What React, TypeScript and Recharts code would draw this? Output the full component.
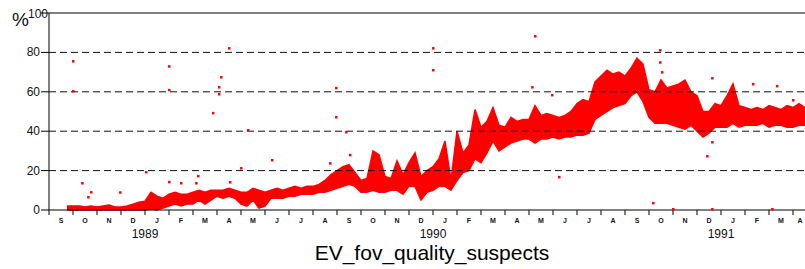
import {
  Area,
  ComposedChart,
  ReferenceLine,
  Scatter,
  XAxis,
  YAxis,
} from "recharts";

// x = months since 1 Sep 1988
const monthPos = [
  0.75, 1, 1.25, 1.5, 1.75, 2, 2.25, 2.5, 2.75, 3, 3.25, 3.5,
  3.75, 4, 4.25, 4.5, 4.75, 5, 5.25, 5.5, 5.75, 6, 6.25, 6.5,
  6.75, 7, 7.25, 7.5, 7.75, 8, 8.25, 8.5, 8.75, 9, 9.25, 9.5,
  9.75, 10, 10.25, 10.5, 10.75, 11, 11.25, 11.5, 11.75, 12, 12.25, 12.5,
  12.75, 13, 13.25, 13.5, 13.75, 14, 14.25, 14.5, 14.75, 15, 15.25, 15.5,
  15.75, 16, 16.25, 16.5, 16.75, 17, 17.25, 17.5, 17.75, 18, 18.25, 18.5,
  18.75, 19, 19.25, 19.5, 19.75, 20, 20.25, 20.5, 20.75, 21, 21.25, 21.5,
  21.75, 22, 22.25, 22.5, 22.75, 23, 23.25, 23.5, 23.75, 24, 24.25, 24.5,
  24.75, 25, 25.25, 25.5, 25.75, 26, 26.25, 26.5, 26.75, 27, 27.25, 27.5,
  27.75, 28, 28.25, 28.5, 28.75, 29, 29.25, 29.5, 29.75, 30, 30.25, 30.5,
  30.75, 31, 31.25, 31.5,
];

const lowVals = [
  0, 0, 0, 0, 0, 0, 0, 0, 0, 0, 0, 0,
  0, 0, 0.5, 0, 1, 2, 3, 2, 3, 3, 5, 3,
  5, 7, 6, 7, 6, 3, 2, 5, 1, 2, 6, 6,
  6, 7, 7, 8, 8, 8, 9, 9, 10, 11, 12, 13,
  12, 9, 9, 10, 9, 9, 10, 10, 8, 12, 12, 5,
  9, 10, 12, 12, 10, 15, 19, 20, 26, 24, 29, 35,
  30, 32, 34, 35, 36, 36, 34, 36, 36, 37, 36, 37,
  37, 38, 38, 39, 46, 48, 50, 52, 53, 54, 58, 60,
  55, 47, 44, 44, 44, 43, 42, 41, 43, 40, 37, 39,
  42, 42, 42, 44, 42, 43, 43, 43, 44, 42, 43, 43,
  42, 42, 43, 43,
];

const highVals = [
  2, 2, 2, 1.5, 2, 1.5, 2, 2.5, 1.5, 1.5, 2, 3,
  4, 4.5, 9, 7, 6, 8, 9, 8, 8, 9, 10, 9,
  10, 10, 10, 11, 10, 9, 9, 11, 10, 9, 10, 11,
  10, 11, 12, 11, 12, 12, 13, 15, 18, 20, 22, 23,
  19, 15, 16, 30, 28, 17, 16, 25, 18, 24, 29, 17,
  20, 22, 26, 35, 15, 40, 29, 33, 51, 42, 45, 52,
  43, 42, 47, 45, 46, 46, 53, 48, 49, 48, 47, 48,
  50, 54, 56, 55, 65, 68, 71, 69, 70, 68, 72, 77,
  74, 61, 60, 66, 62, 63, 64, 66, 60, 58, 50, 50,
  54, 53, 58, 64, 53, 52, 51, 52, 51, 53, 52, 51,
  53, 52, 54, 52,
];

// isolated suspect points
const outlierPos = [
  1.0, 1.0, 1.38, 1.63, 1.75, 2.96, 4.04, 5.0, 5.0, 5.0, 5.5, 6.21,
  6.13, 6.83, 7.08, 7.08, 7.17, 7.5, 7.54, 8.0, 8.29, 9.29, 11.96, 11.96,
  12.38, 11.71, 12.54, 16.0, 16.0, 20.25, 20.13, 21.25, 20.96, 25.17, 25.46, 25.46,
  25.54, 27.63, 27.42, 27.63, 29.33, 30.33, 31.0, 26.0, 27.63, 30.13,
];
const outlierVals = [
  75.6, 60.4, 13.7, 6.6, 9.1, 9, 19.3, 73, 61, 14.3, 13.7, 17.3,
  13.7, 49.3, 62.4, 58.9, 67.5, 82.2, 14.2, 21.3, 40.6, 25.4, 62, 47.2,
  39.6, 23.8, 28, 82.2, 71.1, 88.3, 62.4, 16.8, 58.4, 3.6, 81.2, 75,
  70, 67, 27.4, 34.5, 64, 63, 55.8, 0.5, 0.5, 0.5,
];

const monthLetters = [
  "S", "O", "N", "D", "J", "F", "M", "A", "M", "J", "J", "A",
  "S", "O", "N", "D", "J", "F", "M", "A", "M", "J", "J", "A",
  "S", "O", "N", "D", "J", "F", "M", "A",
];
const yearLabels: Record<number, string> = { 4: "1989", 16: "1990", 28: "1991" };
const yTicks = [0, 20, 40, 60, 80, 100];
const gridValues = [20, 40, 60, 80];

const bandData = monthPos.map((m, i) => ({ m, low: lowVals[i], high: highVals[i] }));
const outliers = outlierPos.map((m, i) => ({ m, v: outlierVals[i] }));

const FONT = "'Liberation Sans', Arial, sans-serif";

const MonthTick = ({ x, y, payload }: any) => {
  const i = payload.value;
  const year = yearLabels[i];
  return (
    <g>
      <text
        x={Math.min(x + 12, 800)}
        y={y + 6}
        textAnchor="middle"
        fontSize={7}
        fontWeight="bold"
        fontFamily={FONT}
        fill="#111"
      >
        {monthLetters[i]}
      </text>
      {year && (
        <text x={x} y={y + 21} textAnchor="middle" fontSize={12} fontFamily={FONT} fill="#111">
          {year}
        </text>
      )}
    </g>
  );
};

const ValueTick = ({ y, payload }: any) => {
  if (payload.value === 100) {
    return (
      <text x={48} y={y + 5} textAnchor="end" fontSize={12} fontFamily={FONT} fill="#111">
        100
      </text>
    );
  }
  return (
    <text x={40} y={y + 4} textAnchor="end" fontSize={12} fontFamily={FONT} fill="#111">
      {payload.value}
    </text>
  );
};

const Dot = (props: any) => (
  <rect x={props.cx - 1} y={props.cy - 1} width={2.5} height={2.5} fill="#ff0000" />
);

export default function App() {
  return (
    <div
      style={{
        position: "absolute",
        left: 0,
        top: 0,
        width: 805,
        height: 269,
        overflow: "hidden",
        background: "#fff",
        fontFamily: FONT,
      }}
    >
      <ComposedChart
        width={805}
        height={269}
        data={bandData}
        margin={{ top: 13, right: 0, bottom: 0, left: 0 }}
      >
        <XAxis
          type="number"
          dataKey="m"
          domain={[0, 31.5]}
          ticks={monthLetters.map((_, i) => i)}
          interval={0}
          height={59}
          tickSize={5}
          stroke="#000"
          tick={<MonthTick />}
          allowDataOverflow
        />
        <YAxis
          type="number"
          domain={[0, 100]}
          ticks={yTicks}
          width={49}
          tickSize={8}
          stroke="#000"
          tick={<ValueTick />}
        />
        {gridValues.map((g) => (
          <ReferenceLine key={g} y={g} stroke="#111" strokeDasharray="7 4" />
        ))}
        <ReferenceLine y={100} stroke="#000" />
        <Area
          type="linear"
          dataKey={(d: any) => [d.low, d.high]}
          stroke="#ff0000"
          strokeWidth={1.5}
          fill="#ff0000"
          fillOpacity={1}
          dot={false}
          activeDot={false}
          isAnimationActive={false}
        />
        <Scatter data={outliers} dataKey="v" shape={<Dot />} isAnimationActive={false} />
      </ComposedChart>
      <div style={{ position: "absolute", left: 12, top: 9, fontSize: 19, color: "#111" }}>%</div>
      <div
        style={{
          position: "absolute",
          left: 0,
          width: 864,
          top: 243,
          textAlign: "center",
          fontSize: 21,
          lineHeight: "20px",
          color: "#000",
        }}
      >
        EV_fov_quality_suspects
      </div>
    </div>
  );
}
